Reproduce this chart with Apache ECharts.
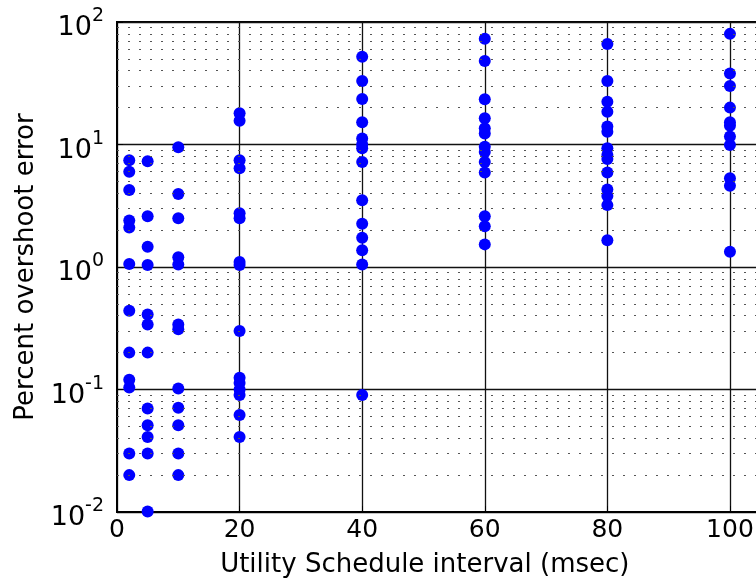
<!DOCTYPE html>
<html>
<head>
<meta charset="utf-8">
<script src="https://cdn.jsdelivr.net/npm/echarts@6/dist/echarts.min.js"></script>
<style>
html,body{margin:0;padding:0;background:#fff;}
#chart{width:756px;height:581px;}
</style>
</head>
<body>
<div id="chart"></div>
<script>
// Utility schedule intervals (msec) - x positions of the point columns
var intervals = [2, 5, 10, 20, 40, 60, 80, 100];
// Percent overshoot error values for each interval
var errAt2   = [7.45, 6.0, 4.25, 2.4, 2.1, 1.06, 0.44, 0.2, 0.12, 0.104, 0.03, 0.02];
var errAt5   = [7.3, 2.6, 1.46, 1.04, 0.41, 0.34, 0.2, 0.07, 0.051, 0.041, 0.03, 0.0101];
var errAt10  = [9.5, 3.95, 2.5, 1.2, 1.05, 0.34, 0.31, 0.102, 0.071, 0.051, 0.03, 0.02];
var errAt20  = [18, 15.6, 7.45, 6.4, 2.75, 2.5, 1.1, 1.04, 0.3, 0.125, 0.113, 0.1, 0.09, 0.062, 0.041];
var errAt40  = [52, 33, 23.5, 15.2, 11.2, 10, 9.3, 7.2, 3.5, 2.25, 1.73, 1.37, 1.05, 0.09];
var errAt60  = [73, 48, 23.4, 16.4, 13.6, 12.3, 9.6, 8.7, 7.2, 5.9, 2.6, 2.15, 1.53];
var errAt80  = [66, 33, 22.3, 18.5, 14, 12.7, 9.3, 8.2, 7.6, 5.9, 4.3, 3.8, 3.2, 1.65];
var errAt100 = [80, 38, 30, 20, 15.2, 14.2, 11.6, 9.9, 5.3, 4.6, 1.33];
var errColumns = [errAt2, errAt5, errAt10, errAt20, errAt40, errAt60, errAt80, errAt100];

// Axis settings
var xTicks = [0, 20, 40, 60, 80, 100];
var yDecades = [0.01, 0.1, 1, 10, 100];
var minorMultipliers = [2, 3, 4, 5, 6, 7, 8, 9];

var points = [];
intervals.forEach(function (x, i) {
  errColumns[i].forEach(function (v) { points.push([x, v]); });
});

var minorLines = [];
yDecades.slice(0, -1).forEach(function (d) {
  minorMultipliers.forEach(function (m) { minorLines.push({ yAxis: +(d * m).toPrecision(3) }); });
});

var FONT = 'DejaVu Sans';
var chart = echarts.init(document.getElementById('chart'), null, { renderer: 'canvas' });
chart.setOption({
  backgroundColor: '#fff',
  animation: false,
  grid: {
    left: 117, top: 22, width: 643.6, height: 490,
    outerBoundsMode: 'none', containLabel: false,
    show: true, borderColor: '#000', borderWidth: 2, backgroundColor: 'transparent'
  },
  xAxis: {
    type: 'value', min: 0, max: 105, interval: 20,
    name: 'Utility Schedule interval (msec)',
    nameLocation: 'middle', nameGap: 40,
    nameTextStyle: { fontFamily: FONT, fontSize: 26, color: '#000', padding: [0, 28, 0, 0] },
    axisLine: { show: true, lineStyle: { color: '#000', width: 2 } },
    axisTick: { show: true, inside: true, length: 6, lineStyle: { color: '#000' } },
    axisLabel: {
      fontFamily: FONT, fontSize: 25, color: '#000', margin: 6, showMaxLabel: false,
      formatter: function (v) { return xTicks.indexOf(v) >= 0 ? String(v) : ''; }
    },
    splitLine: { show: true, lineStyle: { color: '#111', width: 1.3, type: 'solid' } }
  },
  yAxis: {
    type: 'log', logBase: 10, min: 0.01, max: 100,
    name: 'Percent overshoot error',
    nameLocation: 'middle', nameGap: 78,
    nameTextStyle: { fontFamily: FONT, fontSize: 26, color: '#000' },
    axisLine: { show: true, lineStyle: { color: '#000', width: 2 } },
    axisTick: { show: true, inside: true, length: 6, lineStyle: { color: '#000' } },
    axisLabel: {
      margin: 13,
      formatter: function (v) {
        var e = Math.round(Math.log(v) / Math.LN10);
        return '{b|10}{s|' + e + '}';
      },
      rich: {
        b: { fontFamily: FONT, fontSize: 27, color: '#000', lineHeight: 30, padding: [12, 0, 0, 0] },
        s: { fontFamily: FONT, fontSize: 19, color: '#000', lineHeight: 19, verticalAlign: 'top' }
      }
    },
    splitLine: { show: true, lineStyle: { color: '#111', width: 1.3, type: 'solid' } }
  },
  series: [
    {
      type: 'line', data: [], silent: true, z: 1,
      markLine: {
        silent: true, symbol: ['none', 'none'], label: { show: false },
        lineStyle: { color: '#555', width: 1, type: [2, 9] },
        emphasis: { disabled: true },
        data: minorLines
      }
    },
    {
      type: 'scatter', data: points, symbol: 'circle', symbolSize: 12, z: 3,
      itemStyle: { color: '#0000ff', opacity: 1 }
    }
  ]
});
</script>
</body>
</html>
